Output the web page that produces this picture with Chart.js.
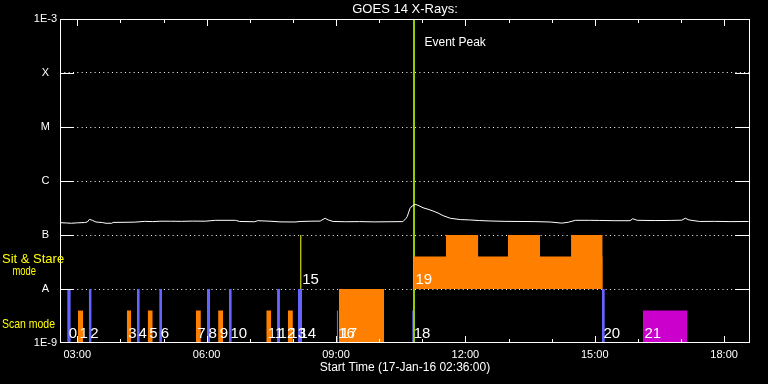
<!DOCTYPE html>
<html><head><meta charset="utf-8">
<script src="https://cdn.jsdelivr.net/npm/chart.js@4/dist/chart.umd.min.js"></script>
<style>html,body{margin:0;padding:0;background:#000;}canvas{display:block}</style>
</head><body>
<canvas id="c" width="768" height="384"></canvas>
<script>
// ---------- data ----------
const chartTitle = 'GOES 14 X-Rays:';
const xAxisTitle = 'Start Time (17-Jan-16 02:36:00)';
const xRange = ['02:36:00', '18:36:00'];
const xTickTimes = ['03:00', '06:00', '09:00', '12:00', '15:00', '18:00'];
const xTickLabels = ['03:00', '06:00', '09:00', '12:00', '15:00', '18:00'];
const yTickValues = [1e-9, 1e-8, 1e-7, 1e-6, 1e-5, 1e-4, 1e-3];
const yTickLabels = ['1E-9', 'A', 'B', 'C', 'M', 'X', '1E-3'];
const bandLabels = ['Sit & Stare', 'mode', 'Scan mode'];
const eventPeakTime = '10:48:30';
const eventPeakLabel = 'Event Peak';

const goesTime = ['02:37','02:45','02:52','03:00','03:10','03:14','03:17','03:21','03:26','03:35','03:40','03:48','03:50',
  '04:05','04:20','04:34','04:45','04:55','05:10','05:25','05:40','05:58','06:12','06:40','06:46','07:07','07:11',
  '07:28','07:42','08:03','08:10','08:24','08:38','08:42','08:45','08:49','08:56','09:13','09:33','09:54','10:15',
  '10:33','10:37','10:39','10:43','10:46','10:50','10:54','11:01','11:08','11:15','11:22','11:29','11:39','11:53',
  '12:06','12:20','12:34','12:55','13:16','13:37','13:58','14:14','14:23','14:33','14:53','15:07','15:28','15:49',
  '15:53','15:59','16:24','16:45','17:01','17:06','17:11','17:26','17:47','18:08','18:34'];
const goesFlux = [1.69e-7,1.67e-7,1.65e-7,1.68e-7,1.70e-7,1.74e-7,1.95e-7,1.87e-7,1.74e-7,1.70e-7,1.65e-7,1.65e-7,1.71e-7,
  1.72e-7,1.73e-7,1.79e-7,1.77e-7,1.80e-7,1.80e-7,1.79e-7,1.81e-7,1.80e-7,1.87e-7,1.87e-7,1.78e-7,1.76e-7,1.84e-7,
  1.80e-7,1.75e-7,1.74e-7,1.78e-7,1.80e-7,1.81e-7,1.95e-7,2.04e-7,1.90e-7,1.78e-7,1.76e-7,1.77e-7,1.75e-7,1.76e-7,
  1.77e-7,2.00e-7,2.18e-7,3.12e-7,3.45e-7,3.70e-7,3.55e-7,3.20e-7,3.00e-7,2.78e-7,2.55e-7,2.28e-7,2.04e-7,1.93e-7,
  1.90e-7,1.85e-7,1.82e-7,1.79e-7,1.78e-7,1.77e-7,1.74e-7,1.66e-7,1.72e-7,1.87e-7,1.87e-7,1.86e-7,1.84e-7,1.84e-7,
  2.00e-7,1.87e-7,1.85e-7,1.86e-7,1.88e-7,2.04e-7,1.90e-7,1.78e-7,1.79e-7,1.77e-7,1.78e-7];

const obsNumber = [0,1,2,3,4,5,6,7,8,9,10,11,12,13,14,15,16,17,18,19,20,21];
const obsStart = ['02:46','03:01','03:16','04:09','04:23','04:38','04:54','05:45','06:00:30','06:16','06:31','07:23','07:38','07:53',
  '08:07','08:11','09:01','09:04','10:46','10:48:30','15:10','16:07'];
const obsEnd = ['02:51','03:08','03:20','04:15','04:27','04:45','04:58','05:52','06:05','06:23','06:35','07:30','07:42','08:00',
  '08:12:40','08:11','09:03','10:07','10:47:20','15:11','15:14','17:09'];
const obsBand = ['scan','scan','scan','scan','scan','scan','scan','scan','scan','scan','scan','scan','scan','scan',
  'scan','sit','scan','scan','scan','sit','scan','scan'];
const obsKind = ['a','b','a','b','a','b','a','b','a','b','a','b','a','b','a','d','a','b','a','b','a','c'];
const obsHeight = [1,0.6,1,0.6,1,0.6,1,0.6,1,0.6,1,0.6,1,0.6,1,1,0.6,1,0.6,0.6,1,0.6];
// extra raised blocks of observation 19 (sit & stare)
const obs19BlockStart = ['11:33','12:59','14:27'];
const obs19BlockEnd = ['12:18','13:44','15:11'];
const obs19BlockHeight = [1,1,1];

// ---------- helpers / styles ----------
function toHours(s){const p=s.split(':').map(Number);return p[0]+(p[1]||0)/60+(p[2]||0)/3600;}
const FONT = 'Liberation Sans';
const bandBase = {scan:0, sit:1};
const kindColor = {a:'#6464ff', b:'#ff8000', c:'#cc00cc', d:'#ffff00'};

const datasets = [];
function rect(t0,t1,base,h,col){
  datasets.push({type:'line', data:[{x:t0,y:base+h},{x:t1,y:base+h}], yAxisID:'yb',
    backgroundColor:col, borderColor:'rgba(0,0,0,0)', borderWidth:0, pointRadius:0, fill:{value:base}});
}
obsNumber.forEach((n,i)=>{
  const base = bandBase[obsBand[i]];
  const t0 = toHours(obsStart[i]), t1 = toHours(obsEnd[i]);
  const col = kindColor[obsKind[i]];
  if (t1 - t0 < 1e-6) {
    datasets.push({type:'line', data:[{x:t0,y:base},{x:t0,y:base+obsHeight[i]}], yAxisID:'yb',
      borderColor:col, borderWidth:1, pointRadius:0, fill:false});
  } else rect(t0,t1,base,obsHeight[i],col);
});
obs19BlockStart.forEach((s,i)=>rect(toHours(s),toHours(obs19BlockEnd[i]),bandBase.sit,obs19BlockHeight[i],kindColor.b));

datasets.push({type:'line', data:goesTime.map((t,i)=>({x:toHours(t),y:goesFlux[i]})), yAxisID:'y',
  borderColor:'#ffffff', borderWidth:1, pointRadius:0, fill:false, tension:0});
datasets.push({type:'line', data:[{x:toHours(eventPeakTime),y:yTickValues[0]},{x:toHours(eventPeakTime),y:yTickValues[yTickValues.length-1]}],
  yAxisID:'y', borderColor:'#99cc00', borderWidth:2, pointRadius:0, fill:false});

const decor = {
  id:'decor',
  beforeDraw(chart){
    const c=chart.ctx; c.save(); c.fillStyle='#000'; c.fillRect(0,0,chart.width,chart.height); c.restore();
  },
  afterDatasetsDraw(chart){
    const c=chart.ctx, xs=chart.scales.x, yb=chart.scales.yb;
    c.save();
    c.fillStyle='#fff'; c.font='15px "'+FONT+'"'; c.textBaseline='alphabetic'; c.textAlign='left';
    obsNumber.forEach((n,i)=>{
      const x = xs.getPixelForValue(toHours(obsStart[i]))+1.5;
      const y = yb.getPixelForValue(bandBase[obsBand[i]]+0.1);
      c.fillText(String(n), x, y);
    });
    c.restore();
  },
  afterDraw(chart){
    const c=chart.ctx, a=chart.chartArea, xs=chart.scales.x, ys=chart.scales.y, yb=chart.scales.yb;
    c.save();
    c.strokeStyle='#fff'; c.lineWidth=1;
    c.strokeRect(Math.round(a.left)+0.5, Math.round(a.top)+0.5, Math.round(a.right-a.left)-1+0.0, Math.round(a.bottom-a.top)-1);
    c.beginPath();
    for(let h=Math.ceil(toHours(xRange[0])); h<=Math.floor(toHours(xRange[1])); h++){
      const x=Math.round(xs.getPixelForValue(h))+0.5, L=(h%3===0)?7:4;
      c.moveTo(x,a.top); c.lineTo(x,a.top+L);
      c.moveTo(x,a.bottom); c.lineTo(x,a.bottom-L);
    }
    yTickValues.slice(1,-1).forEach(v=>{
      const y=Math.round(ys.getPixelForValue(v))+0.5;
      c.moveTo(a.left,y); c.lineTo(a.left+14,y);
      c.moveTo(a.right-15,y); c.lineTo(a.right,y);
    });
    c.stroke();
    // band labels
    c.fillStyle='#ffff00'; c.font='13px "'+FONT+'"'; c.textBaseline='middle'; c.textAlign='left';
    const ySit = yb.getPixelForValue(1.5), yScan = yb.getPixelForValue(0.35);
    c.fillText(bandLabels[0], 2, ySit-3);
    c.fillText(bandLabels[1], 12.5, ySit+9, 23.5);
    c.fillText(bandLabels[2], 2, yScan, 53);
    // event peak label
    c.fillStyle='#fff'; c.font='12px "'+FONT+'"';
    c.fillText(eventPeakLabel, xs.getPixelForValue(toHours(eventPeakTime))+10.5, 43);
    c.restore();
  }
};

new Chart(document.getElementById('c'), {
  type:'line',
  data:{datasets},
  options:{
    responsive:false, animation:false, devicePixelRatio:1,
    layout:{padding:{left:0,right:18,top:0,bottom:0}},
    plugins:{
      legend:{display:false}, tooltip:{enabled:false},
      title:{display:true, text:chartTitle, color:'#fff', fullSize:false,
        font:{family:FONT, size:13, weight:'normal', lineHeight:1.2}, padding:{top:1.5,bottom:1.9}}
    },
    scales:{
      x:{type:'linear', position:'bottom', min:toHours(xRange[0]), max:toHours(xRange[1]),
        afterFit(s){s.height=41;},
        afterBuildTicks(s){s.ticks=xTickTimes.map(t=>({value:toHours(t)}));},
        ticks:{color:'#fff', font:{family:FONT,size:11}, padding:5, maxRotation:0, autoSkip:false,
          callback:(v,i)=>xTickLabels[i]},
        grid:{display:false, drawTicks:false}, border:{display:false},
        title:{display:true, text:xAxisTitle, color:'#fff', font:{family:FONT,size:12,lineHeight:1.2}, padding:{top:0,bottom:9}}
      },
      y:{type:'logarithmic', position:'left', min:yTickValues[0], max:yTickValues[yTickValues.length-1],
        afterFit(s){s.width=60;},
        afterBuildTicks(s){s.ticks=yTickValues.map(v=>({value:v}));},
        ticks:{color:'#fff', font:{family:FONT,size:11}, padding:3, crossAlign:'center', autoSkip:false,
          callback:(v,i)=>yTickLabels[i]},
        grid:{drawTicks:false, lineWidth:1,
          color:(ctx)=>(ctx.index>0 && ctx.index<yTickValues.length-1)?'#ffffff':'rgba(0,0,0,0)'},
        border:{display:false, dash:[1,3.33]}
      },
      yb:{type:'linear', display:false, min:0, max:6}
    }
  },
  plugins:[decor]
});
</script>
</body></html>
